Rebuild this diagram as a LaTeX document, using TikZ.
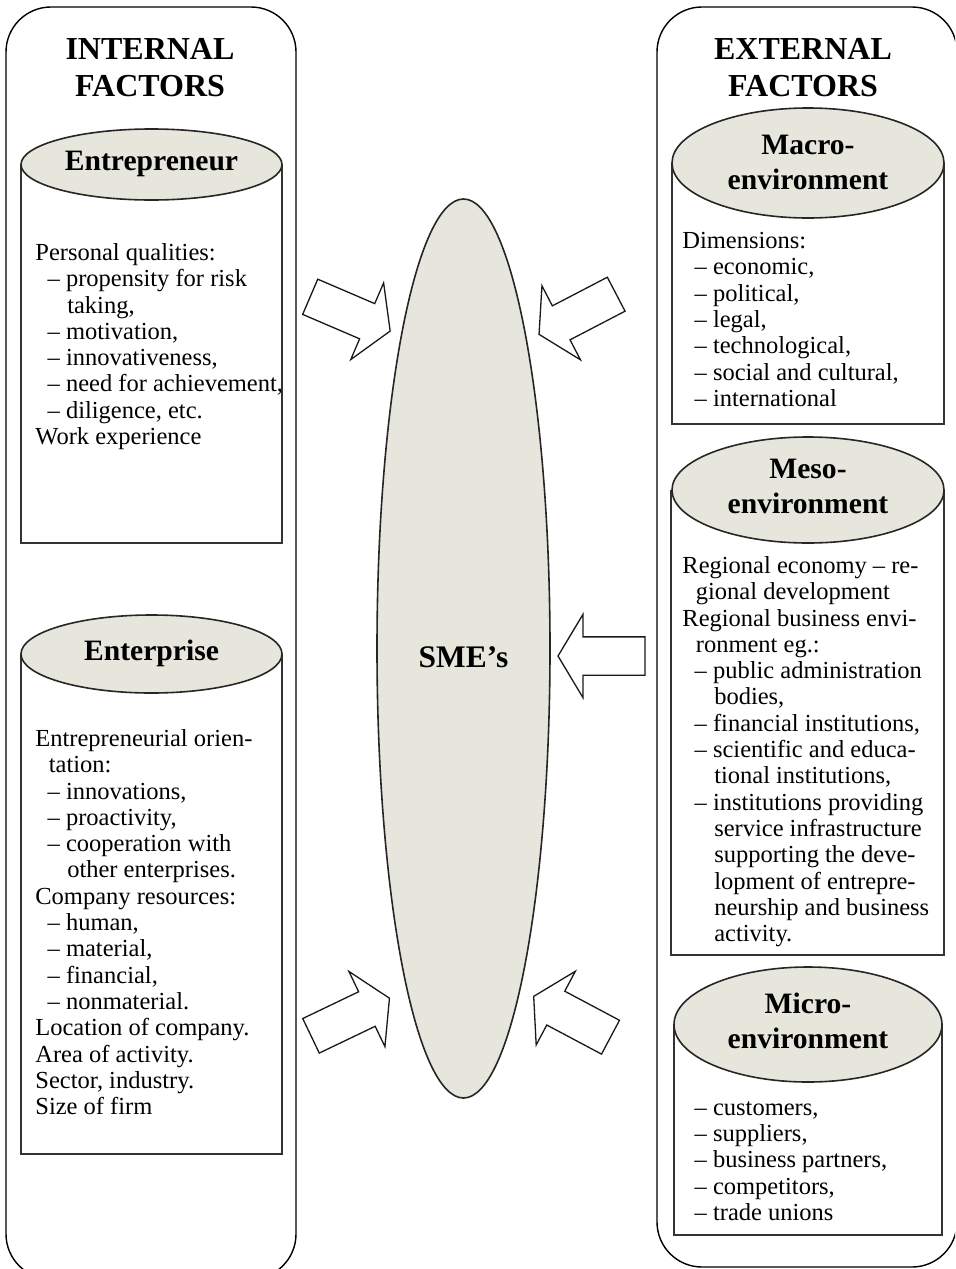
\documentclass[tikz,border=0pt]{standalone}
\usepackage{fontspec}
\setmainfont{Liberation Serif}
\usetikzlibrary{positioning,shapes.geometric}
\definecolor{capfill}{RGB}{230,230,220}
% list helpers
\newcommand{\bitem}{\hspace*{0.5em}–\ }
\newcommand{\bcont}{\hspace*{1.3em}}
\newcommand{\bwrap}{\hspace*{0.55em}}

\begin{document}
\begin{tikzpicture}[x=0.5pt,y=-0.5pt,
    frame/.style={draw=black, line width=0.7pt, rounded corners=22.5pt},
    lid/.style={draw=black!85, line width=0.8pt, fill=capfill},
    side/.style={draw=black!80, line width=0.9pt},
    bighead/.style={font=\fontsize{16}{18.5}\selectfont\bfseries, align=center},
    lidtitle/.style={font=\fontsize{14.8}{17.5}\selectfont\bfseries, align=center},
    body/.style={font=\fontsize{12.25}{13.15}\selectfont, align=left, anchor=north west, inner sep=0pt},
    pushline/.style={draw=black!90, fill=white, line width=0.65pt, line join=miter},
    pics/push/.style={code={
      \draw[pushline] (0,-19.15) -- (62,-19.15) -- (62,-41.7) -- (87,0)
        -- (62,41.7) -- (62,19.15) -- (0,19.15) -- cycle;}}]
    \useasboundingbox (0,0) rectangle (955,1269);
    \clip (0,0) rectangle (955,1269);

    % outer frames
    \draw[frame] (6,7) rectangle (296,1279);
    \draw[frame] (657,7) rectangle (957,1267);
    \node[bighead] (intHead) at (150,68) {INTERNAL\\FACTORS};
    \node[bighead] (extHead) at (803,68) {EXTERNAL\\FACTORS};

    % Entrepreneur
    \draw[side] (21,164) -- (21,543) -- (282,543) -- (282,164);
    \draw[lid] (151.5,164.5) ellipse (130.5 and 35.5);
    \node[lidtitle] (entr) at (151.5,164) {Entrepreneur};
    \node[body] (entrText) at (35,243) {Personal qualities:\\
      \bitem propensity for risk\\
      \bcont taking,\\
      \bitem motivation,\\
      \bitem innovativeness,\\
      \bitem need for achievement,\\
      \bitem diligence, etc.\\
      Work experience};

    % Enterprise
    \draw[side] (21,654) -- (21,1154) -- (282,1154) -- (282,654);
    \draw[lid] (151.5,654) ellipse (130.5 and 39);
    \node[lidtitle] (entp) at (151.5,653) {Enterprise};
    \node[body] (entpText) at (35,729) {Entrepreneurial orien-\\
      \bwrap tation:\\
      \bitem innovations,\\
      \bitem proactivity,\\
      \bitem cooperation with\\
      \bcont other enterprises.\\
      Company resources:\\
      \bitem human,\\
      \bitem material,\\
      \bitem financial,\\
      \bitem nonmaterial.\\
      Location of company.\\
      Area of activity.\\
      Sector, industry.\\
      Size of firm};

    % Macro-environment
    \draw[side] (672,163) -- (672,424) -- (944,424) -- (944,163);
    \draw[lid] (808,163) ellipse (136 and 55);
    \node[lidtitle] (macro) at (808,162) {Macro-\\environment};
    \node[body] (macroText) at (682,232) {Dimensions:\\
      \bitem economic,\\
      \bitem political,\\
      \bitem legal,\\
      \bitem technological,\\
      \bitem social and cultural,\\
      \bitem international};

    % Meso-environment
    \draw[side] (671,490) -- (671,955) -- (944,955) -- (944,490);
    \draw[lid] (808,490) ellipse (136 and 53);
    \node[lidtitle] (meso) at (808,486) {Meso-\\environment};
    \node[body] (mesoText) at (682,556) {Regional economy – re-\\
      \bwrap gional development\\
      Regional business envi-\\
      \bwrap ronment eg.:\\
      \bitem public administration\\
      \bcont bodies,\\
      \bitem financial institutions,\\
      \bitem scientific and educa-\\
      \bcont tional institutions,\\
      \bitem institutions providing\\
      \bcont service infrastructure\\
      \bcont supporting the deve-\\
      \bcont lopment of entrepre-\\
      \bcont neurship and business\\
      \bcont activity.};

    % Micro-environment
    \draw[side] (674,1024) -- (674,1235) -- (942,1235) -- (942,1024);
    \draw[lid] (808,1024.5) ellipse (134 and 57.5);
    \node[lidtitle] (micro) at (808,1021) {Micro-\\environment};
    \node[body] (microText) at (682,1101) {\bitem customers,\\
      \bitem suppliers,\\
      \bitem business partners,\\
      \bitem competitors,\\
      \bitem trade unions};

    % SME's
    \node[ellipse, lid, minimum width=86.5pt, minimum height=449.5pt, inner sep=0pt] (sme) at (463.5,648.5) {};
    \node[font=\fontsize{15.7}{18}\selectfont\bfseries] (smeText) at (463.5,657) {SME’s};

    % block arrows
    \pic[rotate=-23.2] (arrTL) at (310.2,296.8) {push};
    \pic[rotate=207.5] (arrTR) at (616.2,294.2) {push};
    \pic[rotate=180] (arrM) at (645,656) {push};
    \pic[rotate=25.6] (arrBL) at (311,1035.8) {push};
    \pic[rotate=152] (arrBR) at (610.5,1037.2) {push};
\end{tikzpicture}
\end{document}
